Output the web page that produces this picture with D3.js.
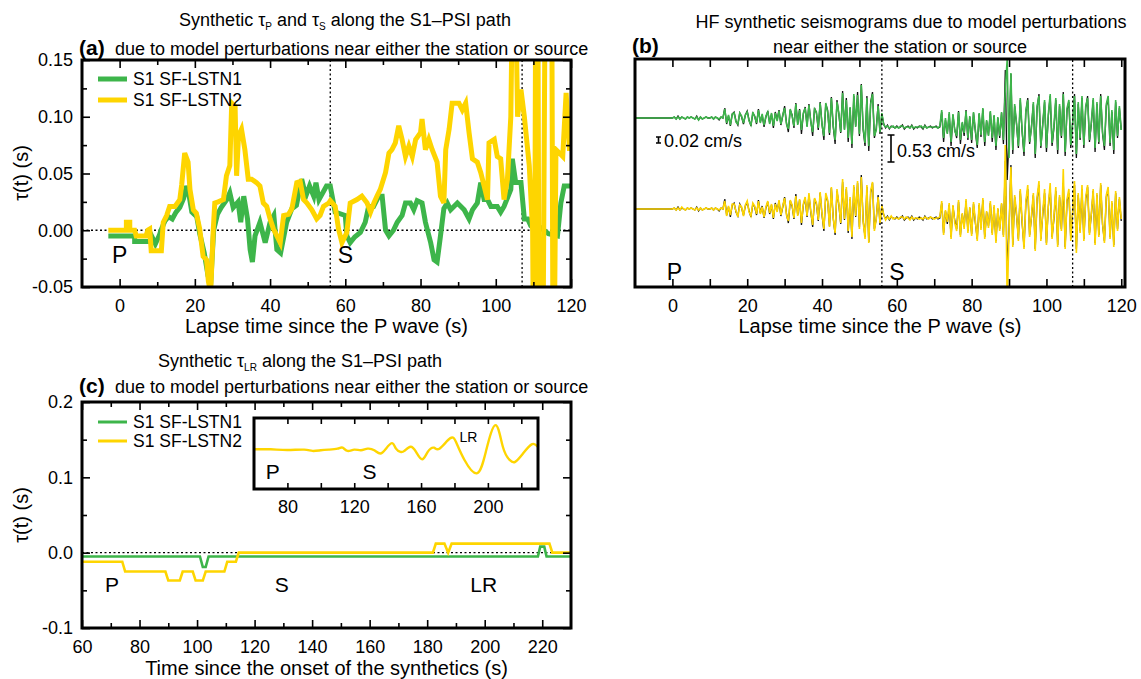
<!DOCTYPE html>
<html>
<head>
<meta charset="utf-8">
<script src="https://cdn.jsdelivr.net/npm/d3@7"></script>
<style>
body { margin: 0; background: #fff; }
svg { font-family: "Liberation Sans", Arial, Helvetica, sans-serif; }
</style>
</head>
<body>
<script>
// ---------- data ----------
// panel (a): tau(t) along the S1-PSI path, [lapse time (s), tau (s)]
var tauA_LSTN1 = [[-3,-0.005],[4,-0.005],[4,-0.01],[8,-0.01],[8.5,-0.005],[9.5,-0.012],[10.5,-0.005],[11,0],[12,0.008],[13,0.012],[14,0.01],[15,0.016],[16,0.02],[17,0.028],[17.8,0.039],[18.5,0.03],[19.2,0.016],[20.5,0.012],[21.3,-0.003],[22.5,-0.02],[23.5,-0.04],[24.2,-0.048],[25,0],[26,0.014],[27,0.02],[28.5,0.027],[29.3,0.033],[30.2,0.02],[31.5,0.025],[32.2,0.007],[33,0.03],[34,0.01],[34.7,-0.017],[35.3,-0.028],[36,-0.005],[37.3,0.007],[38.7,-0.011],[40,0.007],[41,0.013],[41.8,-0.017],[42.8,-0.02],[44.4,0.007],[45.8,0.019],[47,0.022],[48.4,0.045],[49.5,0.03],[50.5,0.039],[51.6,0.03],[52.2,0.042],[53,0.027],[55,0.039],[56,0.039],[57.3,0.016],[60,0.013],[60.4,-0.005],[61.3,-0.011],[62.5,-0.006],[64,-0.002],[65.3,0.007],[66.2,0.021],[67.5,0.021],[68.9,0.03],[69.8,0.03],[70.7,0],[71.6,-0.005],[72.8,0],[73.8,0.007],[75.1,0.013],[76,0.024],[77.3,0.024],[78.2,0.018],[79.1,0.026],[80.4,0.024],[81.3,0.007],[82.7,-0.011],[83.6,-0.026],[84.4,-0.028],[85.3,-0.005],[86.2,0.019],[87.1,0.024],[88,0.018],[89.8,0.024],[91.6,0.018],[92.9,0.01],[93.8,0.018],[95.1,0.024],[96,0.042],[96.9,0.027],[97.8,0.027],[98.7,0.021],[100.4,0.021],[101.3,0.016],[102.2,0.021],[104,0.036],[104.4,0.063],[105.3,0.042],[106.7,0.042],[107.6,0.01],[108.5,0.01],[109.3,0.004],[110.7,0],[112,0.002],[114,-0.003],[116.4,-0.005],[117.3,0.024],[118.2,0.039],[120,0.039]];
var tauA_LSTN2 = [[-3,0],[1.8,0],[1.8,0.007],[2.7,0.007],[2.7,0],[4,0],[4.4,-0.005],[7,-0.005],[7.5,0],[8,0.001],[8.4,-0.018],[11.1,-0.018],[11.6,0.007],[12.5,0.013],[13.3,0.021],[14.7,0.021],[16,0.027],[16.5,0.04],[17.3,0.068],[18.2,0.06],[18.7,0.036],[19.6,0.018],[20.4,0.015],[21.3,0.001],[22.2,-0.023],[23.1,-0.026],[23.6,-0.045],[24.2,-0.055],[24.9,0.001],[25.3,0.024],[26.2,0.025],[27.6,0.027],[28.4,0.048],[29.3,0.057],[29.8,0.112],[30.7,0.109],[31.1,0.048],[31.6,0.083],[32.4,0.089],[33.3,0.071],[34.2,0.045],[35.1,0.045],[36.4,0.042],[37.3,0.039],[38.2,0.024],[39.1,0.021],[40,0.01],[40.9,0.001],[41.8,-0.005],[42.7,-0.011],[43.6,0.013],[44.9,0.014],[45.8,0.019],[47.1,0.042],[48,0.043],[48.9,0.027],[49.8,0.024],[51.1,0.018],[52.4,0.01],[53.3,0.013],[54.2,0.021],[55.6,0.024],[56,0.026],[57.3,0.021],[58.2,0.001],[59.1,-0.011],[60.4,-0.002],[61.3,0.024],[63.1,0.027],[64.4,0.03],[65.8,0.024],[66.7,0.016],[67.6,0.024],[68.4,0.03],[69.3,0.036],[70.7,0.051],[71.6,0.068],[72.4,0.071],[73.3,0.077],[74.2,0.092],[75.1,0.08],[76,0.065],[76.9,0.074],[77.8,0.065],[78.7,0.08],[80,0.086],[80.4,0.098],[81.3,0.071],[82.2,0.08],[83.1,0.071],[84.4,0.06],[85.3,0.03],[86.2,0.024],[86.7,0.071],[87.6,0.089],[88.4,0.112],[90.2,0.112],[91.1,0.106],[92,0.112],[92.9,0.086],[93.8,0.063],[95.1,0.06],[96,0.051],[96.9,0.039],[97.8,0.027],[98.2,0.077],[99.6,0.08],[100.4,0.065],[101.3,0.063],[102.2,0.027],[103.1,0.045],[104,0.1],[104.4,0.2],[105.3,0.2],[105.8,0.1],[106.7,0.124],[107.6,0.1],[108.9,0.057],[109.8,0],[110.2,-0.2],[110.6,0.2],[111.2,0.2],[111.6,-0.2],[112.4,-0.2],[113.1,0.2],[114.9,0.2],[115.3,-0.2],[116,0.071],[116.9,0.068],[117.8,0.065],[118.7,0.121],[119.6,0.07],[120,0.08]];
var phaseTimesA = [56, 107];   // S onset and end of window (s)

// panel (b): HF seismograms, sampled every 0.5 s from -10 s, amplitude in display counts
var seisT0 = -10, seisDt = 0.5;
var seisRef = [0,0,0,0,0,0,0,0,0,0,0,0,0,0,0,0,0,0,0,0,
  0,1,-1,2,-1,1,0,-1,1,0,1,0,-1,2,-2,1,-1,0,1,0,
  0,1,-1,1,0,-2,1,0,10,-6,2,-8,4,6,-3,-7,5,1,-6,3,
  7,-2,-8,5,2,-6,9,-4,3,-9,1,7,-5,4,-10,6,-2,8,-7,2,
  12,-5,-14,8,3,-10,15,-6,9,-16,4,11,-8,14,-3,-18,10,5,-12,16,
  -6,-22,14,8,-17,21,-9,-26,18,4,-15,27,-11,20,-24,10,-30,22,-8,26,
  -18,34,-12,-28,22,-33,16,26,-20,-10,14,-16,4,-6,-10,-7,-11,-8,-9,-10,
  -8,-10,-9,-7,-11,-9,-8,-10,-7,-11,-9,-10,-8,-9,-11,-7,-10,-9,-8,-10,
  -9,-8,-10,-9,6,-24,-2,-15,4,-28,3,-12,-20,7,-26,-5,-18,8,-22,1,
  -25,5,-14,-30,4,-19,9,-28,-3,-17,6,-24,2,-32,0,-20,5,-26,48,-62,
  -20,44,-36,12,-6,-30,18,-14,-38,6,20,-26,-8,14,-40,10,24,-30,-6,16,
  -34,2,22,-28,-10,18,-36,12,-20,26,-38,8,16,-30,-4,24,-40,14,-22,20,
  -30,10,22,-24,-6,18,-34,14,-26,24,-16,-32,12,20,-28,6,-36,16,-20,10,-12];
var seisLSTN1 = [0,0,0,0,0,0,0,0,0,0,0,0,0,0,0,0,0,0,0,0,
  0,1,-1,1,-1,1,0,-1,1,0,1,0,-1,1,-2,1,-1,0,1,0,
  0,1,-1,1,0,-1,1,0,9,-5,3,-7,4,5,-4,-6,5,2,-5,3,
  6,-3,-7,6,1,-5,8,-5,4,-7,2,6,-6,5,-8,5,-3,7,-6,3,
  10,-6,-11,9,2,-8,14,-7,8,-12,5,10,-9,13,-4,-14,9,6,-10,15,
  -7,-18,15,6,-15,20,-8,-22,16,5,-14,25,-12,18,-20,11,-26,24,-9,23,
  -16,33,-10,-25,20,-28,14,24,-18,-12,12,-14,5,-7,-9,-8,-10,-9,-8,-10,
  -9,-10,-8,-8,-10,-9,-9,-10,-8,-10,-9,-9,-9,-8,-10,-8,-10,-9,-9,-9,
  -9,-9,-10,-8,8,-20,0,-16,6,-24,4,-13,-18,6,-22,-4,-15,7,-20,2,
  -22,6,-12,-27,5,-17,10,-24,-2,-18,7,-20,3,-28,1,-18,6,-22,30,58,
  -40,45,-32,14,-5,-28,20,-12,-34,8,18,-24,-10,16,-36,12,22,-28,-8,18,
  -30,4,24,-25,-8,20,-32,14,-18,24,-34,10,18,-27,-6,22,-36,16,-20,22,
  -27,12,20,-22,-4,20,-30,16,-24,22,-14,-28,14,22,-25,8,-32,18,-18,12,-12];
var seisLSTN2 = [0,0,0,0,0,0,0,0,0,0,0,0,0,0,0,0,0,0,0,0,
  0,1,-1,1,-1,2,0,-1,1,0,1,0,-1,1,-1,1,-1,0,1,0,
  0,1,-1,1,0,-1,1,0,8,-7,3,-6,5,5,-2,-8,4,2,-7,4,
  8,-3,-7,6,3,-5,8,-5,2,-8,2,8,-4,5,-9,5,-3,9,-6,3,
  11,-6,-12,9,4,-9,13,-7,10,-14,5,12,-7,16,-2,-16,11,6,-11,17,
  -5,-20,16,9,-18,22,-10,-24,20,5,-14,30,-10,22,-22,12,-28,24,-7,28,
  -20,32,-13,-30,24,-34,18,27,-22,-10,12,-14,3,-6,-11,-8,-10,-7,-10,-9,
  -9,-10,-8,-8,-10,-8,-9,-11,-8,-10,-9,-9,-10,-9,-10,-8,-9,-10,-8,-9,
  -10,-9,-9,-8,8,-26,-1,-13,6,-30,4,-14,-22,9,-28,-4,-20,10,-24,2,
  -27,7,-12,-32,6,-21,11,-30,-2,-19,8,-26,4,-34,1,-22,6,-28,64,-95,
  -22,42,-38,14,-4,-32,20,-12,-40,8,24,-28,-6,16,-42,12,28,-32,-4,20,
  -36,4,26,-30,-8,22,-38,14,-22,40,-40,10,20,-32,-2,28,-44,16,-24,24,
  -32,12,24,-26,-4,20,-36,16,-28,26,-14,-34,14,22,-30,8,-38,18,-22,12,-10];
var traceOffsets = [0, -91];   // LSTN1 on top, LSTN2 below (counts)

// panel (c): tau_LR, [time since onset of synthetics (s), tau (s)]
var tauC_LSTN1 = [[60,-0.005],[101,-0.005],[102,-0.019],[103,-0.019],[104,-0.005],[218.5,-0.005],[219.3,0.008],[220.7,0.008],[221.5,-0.005],[230,-0.005]];
var tauC_LSTN2 = [[60,-0.012],[74,-0.012],[75,-0.025],[89,-0.025],[90,-0.037],[94,-0.037],[95,-0.025],[98.5,-0.025],[99.5,-0.037],[102,-0.037],[103,-0.025],[109.5,-0.025],[110.5,-0.012],[113.5,-0.012],[114.5,0],[182,0],[183,0.012],[186,0.012],[187.3,0],[188.5,0.012],[222.5,0.012],[223.5,0],[230,0]];
// inset: long-period synthetic waveform (normalized amplitude)
var insetTime = [60,70,80,90,95,100,105,110,113,116,120,124,128,132,135.6,139,142.7,145,147.7,150,153.7,157,160.7,164,167.7,171,177.4,181,186,193.6,199,204.6,209,213,216.3,221,226.5,230];
var insetAmp  = [0.03,0.03,0.01,0.02,-0.02,0,0.02,0.05,0.08,-0.02,0.02,0,0.05,0,-0.1,0.05,0.22,0.05,-0.05,-0.02,0.11,-0.05,-0.28,-0.05,0.08,0.05,0.37,0.25,-0.3,-0.71,0,0.78,0.1,-0.3,-0.36,-0.1,0.19,0.1];

var seriesNames = ['S1 SF-LSTN1', 'S1 SF-LSTN2'];
var colors = ['#3db54a', '#fed500'];

// ---------- page ----------
var width = 1141, height = 679;
var svg = d3.select('body').append('svg').attr('width', width).attr('height', height);

function addAxes(g, x, y, o) {
    var yb = y.range()[0], yt = y.range()[1], xl = x.range()[0], xr = x.range()[1];
    var blank = function () { return ''; };
    var style = function (sel) {
        sel.select('.domain').remove();
        sel.selectAll('line').attr('stroke', '#000').attr('stroke-width', 1.6);
        sel.selectAll('text').attr('font-size', 18).attr('fill', '#000')
            .attr('font-family', '"Liberation Sans", Arial, sans-serif');
    };
    var mk = function (axisFn, scale, vals, len, fmt, pad, tr) {
        if (!vals) return;
        g.append('g').attr('transform', tr)
            .call(axisFn(scale).tickValues(vals).tickSizeInner(-len).tickSizeOuter(0).tickPadding(pad).tickFormat(fmt))
            .call(style);
    };
    mk(d3.axisBottom, x, o.xMajor, o.maj, o.xFmt || blank, o.xPad || 12, 'translate(0,' + yb + ')');
    mk(d3.axisBottom, x, o.xMinor, o.min, blank, 0, 'translate(0,' + yb + ')');
    mk(d3.axisTop, x, o.xMajor, o.maj, blank, 0, 'translate(0,' + yt + ')');
    mk(d3.axisTop, x, o.xMinor, o.min, blank, 0, 'translate(0,' + yt + ')');
    mk(d3.axisLeft, y, o.yMajor, o.maj, o.yFmt || blank, 9, 'translate(' + xl + ',0)');
    mk(d3.axisLeft, y, o.yMinor, o.min, blank, 0, 'translate(' + xl + ',0)');
    mk(d3.axisRight, y, o.yMajor, o.maj, blank, 0, 'translate(' + xr + ',0)');
    mk(d3.axisRight, y, o.yMinor, o.min, blank, 0, 'translate(' + xr + ',0)');
    g.append('rect').attr('x', xl).attr('y', yt).attr('width', xr - xl).attr('height', yb - yt)
        .attr('fill', 'none').attr('stroke', '#000').attr('stroke-width', 3);
}

function clip(id, x, y) {
    svg.append('clipPath').attr('id', id).append('rect')
        .attr('x', x.range()[0]).attr('y', y.range()[1])
        .attr('width', x.range()[1] - x.range()[0]).attr('height', y.range()[0] - y.range()[1]);
}

function dotted(g, x1, y1, x2, y2) {
    g.append('line').attr('x1', x1).attr('y1', y1).attr('x2', x2).attr('y2', y2)
        .attr('stroke', '#000').attr('stroke-width', 1.3).attr('stroke-dasharray', '2,2.5');
}

function label(x, y, txt, size, anchor, weight) {
    return svg.append('text').attr('x', x).attr('y', y).attr('font-size', size)
        .attr('text-anchor', anchor || 'start').attr('font-weight', weight || 'normal').text(txt);
}

function titleSub(x, y, parts) {
    // parts: [text, subscript, text, subscript, ...]
    var t = svg.append('text').attr('x', x).attr('y', y).attr('font-size', 18).attr('text-anchor', 'middle');
    parts.forEach(function (p, i) {
        if (i % 2 === 0) t.append('tspan').attr('dy', i ? -4 : 0).attr('font-size', 18).text(p);
        else t.append('tspan').attr('dy', 4).attr('font-size', 10).text(p);
    });
}

function yTitle(x, y) {
    svg.append('text').attr('transform', 'translate(' + x + ',' + y + ') rotate(-90)')
        .attr('text-anchor', 'middle').attr('font-size', 20).text('τ(t) (s)');
}

function legend(x, y, dy, lw) {
    seriesNames.forEach(function (n, i) {
        svg.append('line').attr('x1', x).attr('x2', x + 29).attr('y1', y + i * dy).attr('y2', y + i * dy)
            .attr('stroke', colors[i]).attr('stroke-width', lw);
        label(x + 35, y + i * dy + 6, n, 17.5);
    });
}

// ---------- (a) ----------
var xA = d3.scaleLinear().domain([-10, 120]).range([82, 571]);
var yA = d3.scaleLinear().domain([-0.05, 0.15]).range([287, 60]);
clip('clipA', xA, yA);
var gA = svg.append('g');
dotted(gA, xA(-10), yA(0), xA(120), yA(0));
phaseTimesA.forEach(function (t) { dotted(gA, xA(t), yA(-0.05), xA(t), yA(0.15)); });
var lineA = d3.line().x(function (d) { return xA(d[0]); }).y(function (d) { return yA(d[1]); });
[tauA_LSTN1, tauA_LSTN2].forEach(function (s, i) {
    gA.append('path').attr('clip-path', 'url(#clipA)').attr('d', lineA(s))
        .attr('fill', 'none').attr('stroke', colors[i]).attr('stroke-width', 5).attr('stroke-linejoin', 'miter');
});
addAxes(gA, xA, yA, {
    xMajor: [0, 20, 40, 60, 80, 100, 120], xMinor: [10, 30, 50, 70, 90, 110], xFmt: d3.format('d'),
    yMajor: [-0.05, 0, 0.05, 0.1, 0.15], yMinor: [-0.025, 0.025, 0.075, 0.125],
    yFmt: function (d) { return d.toFixed(2); }, maj: 8, min: 5
});
legend(98, 79, 21, 5);
label(xA(-2), 263, 'P', 23);
label(xA(58), 263, 'S', 23);
titleSub(345, 26, ['Synthetic τ', 'P', ' and τ', 'S', ' along the S1–PSI path']);
label(79, 55, '(a)', 21, 'start', 'bold');
label(115, 55, 'due to model perturbations near either the station or source', 18);
label((82 + 571) / 2, 333, 'Lapse time since the P wave (s)', 20, 'middle');
yTitle(28, 173);

// ---------- (b) ----------
var xB = d3.scaleLinear().domain([-10, 121]).range([635, 1125]);
var yB = d3.scaleLinear().domain([-169, 59]).range([287, 59]);
clip('clipB', xB, yB);
var gB = svg.append('g');
[seisLSTN1, seisLSTN2].forEach(function (s, k) {
    var off = traceOffsets[k];
    var ln = d3.line().x(function (d, i) { return xB(seisT0 + i * seisDt); }).y(function (d) { return yB(d + off); });
    gB.append('path').attr('clip-path', 'url(#clipB)').attr('d', ln(seisRef))
        .attr('fill', 'none').attr('stroke', '#111').attr('stroke-width', 1.3);
    gB.append('path').attr('clip-path', 'url(#clipB)').attr('d', ln(s))
        .attr('fill', 'none').attr('stroke', colors[k]).attr('stroke-width', 1.6);
});
phaseTimesA.forEach(function (t) { dotted(gB, xB(t), yB.range()[0], xB(t), yB.range()[1]); });
addAxes(gB, xB, yB, {
    xMajor: [0, 20, 40, 60, 80, 100, 120], xMinor: [10, 30, 50, 70, 90, 110], xFmt: d3.format('d'),
    maj: 8, min: 8
});
// amplitude scale bars
function scaleBar(x, y1, y2, cap) {
    var p = d3.path();
    p.moveTo(x, y1); p.lineTo(x, y2);
    p.moveTo(x - cap, y1); p.lineTo(x + cap, y1);
    p.moveTo(x - cap, y2); p.lineTo(x + cap, y2);
    svg.append('path').attr('d', p.toString()).attr('stroke', '#000').attr('stroke-width', 1.6).attr('fill', 'none');
}
scaleBar(658.5, 137, 143, 2.5);
label(664, 147, '0.02 cm/s', 18);
scaleBar(891, 135, 162, 3.5);
label(897, 157, '0.53 cm/s', 18);
label(xB(-1.5), 280, 'P', 23);
label(xB(58), 280, 'S', 23);
label(632, 53, '(b)', 21, 'start', 'bold');
label(911, 28, 'HF synthetic seismograms due to model perturbations', 18, 'middle');
label(900, 53, 'near either the station or source', 18, 'middle');
label((635 + 1125) / 2, 333, 'Lapse time since the P wave (s)', 20, 'middle');

// ---------- (c) ----------
var xC = d3.scaleLinear().domain([60, 230]).range([82, 571]);
var yC = d3.scaleLinear().domain([-0.1, 0.2]).range([628, 402]);
clip('clipC', xC, yC);
var gC = svg.append('g');
dotted(gC, xC(60), yC(0), xC(230), yC(0));
var lineC = d3.line().x(function (d) { return xC(d[0]); }).y(function (d) { return yC(d[1]); });
[tauC_LSTN1, tauC_LSTN2].forEach(function (s, i) {
    gC.append('path').attr('clip-path', 'url(#clipC)').attr('d', lineC(s))
        .attr('fill', 'none').attr('stroke', colors[i]).attr('stroke-width', 2.6);
});
addAxes(gC, xC, yC, {
    xMajor: [60, 80, 100, 120, 140, 160, 180, 200, 220], xMinor: [70, 90, 110, 130, 150, 170, 190, 210],
    xFmt: d3.format('d'),
    yMajor: [-0.1, 0, 0.1, 0.2], yMinor: [-0.05, 0.05, 0.15],
    yFmt: function (d) { return d.toFixed(1); }, maj: 8, min: 5
});
legend(98, 422, 19, 3);
label(xC(68), 592, 'P', 21);
label(xC(127), 592, 'S', 21);
label(xC(195), 592, 'LR', 21);

// inset
var xI = d3.scaleLinear().domain([60, 230]).range([254, 538]);
var yI = d3.scaleLinear().domain([-1.2, 1]).range([489, 418]);
svg.append('rect').attr('x', 254).attr('y', 418).attr('width', 284).attr('height', 71).attr('fill', '#fff');
clip('clipI', xI, yI);
var gI = svg.append('g');
gI.append('path').attr('clip-path', 'url(#clipI)')
    .attr('d', d3.line().curve(d3.curveNatural)
        .x(function (d, i) { return xI(insetTime[i]); }).y(function (d) { return yI(d); })(insetAmp))
    .attr('fill', 'none').attr('stroke', colors[1]).attr('stroke-width', 2.4);
addAxes(gI, xI, yI, { xMajor: [80, 120, 160, 200], xMinor: [100, 140, 180, 220], xFmt: d3.format('d'), xPad: 11, maj: 6, min: 6 });
label(xI(67), 479, 'P', 21);
label(xI(125), 479, 'S', 21);
label(xI(183), 442, 'LR', 14);

titleSub(300, 367, ['Synthetic τ', 'LR', ' along the S1–PSI path']);
label(79, 393, '(c)', 21, 'start', 'bold');
label(115, 393, 'due to model perturbations near either the station or source', 18);
label((82 + 571) / 2, 675, 'Time since the onset of the synthetics (s)', 20, 'middle');
yTitle(28, 515);
</script>
</body>
</html>
